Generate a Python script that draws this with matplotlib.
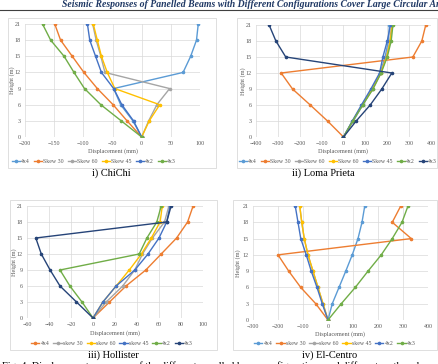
import matplotlib
matplotlib.use('Agg')
import matplotlib.pyplot as plt
from matplotlib.patches import Rectangle
from matplotlib.lines import Line2D

# ---------------- data ----------------
heights = [0, 3, 6, 9, 12, 15, 18, 21]

chichi_labels = ['4x4', 'Skew 30', 'Skew 60', 'Skew 45', '4x2', '4x3']
chichi_4x4 = [0, -15, -36, -48, 71, 84, 94, 97]
chichi_skew30 = [0, -25, -49, -76, -99, -119, -139, -149]
chichi_skew60 = [0, 12, 26, 48, -63, -70, -78, -84]
chichi_skew45 = [0, 13, 31, -46, -59, -69, -76, -83]
chichi_4x2 = [0, -14, -34, -48, -69, -79, -89, -93]
chichi_4x3 = [0, -35, -70, -98, -116, -133, -156, -170]
chichi_xticks = [-200, -150, -100, -50, 0, 50, 100]

loma_labels = ['4x4', 'Skew 30', 'Skew 60', 'Skew 60', 'Skew 45', '4x2', '4x3']
loma_4x4 = [0, 45, 88, 130, 168, 190, 205, 210]
loma_skew30 = [0, -73, -152, -233, -285, 317, 358, 376]
loma_skew60a = [0, 42, 86, 133, 170, 195, 212, 220]
loma_skew60b = [0, 42, 85, 132, 170, 197, 214, 222]
loma_skew45 = [0, 40, 82, 125, 165, 180, 200, 215]
loma_4x2 = [0, 42, 88, 135, 172, 200, 218, 226]
loma_4x3 = [0, 58, 122, 175, 221, -264, -309, -340]
loma_xticks = [-400, -300, -200, -100, 0, 100, 200, 300, 400]

hol_labels = ['4x4', 'skew 30', 'skew 60', 'skew 45', '4x2', '4x3']
hol_4x4 = [0, 15, 30, 48, 62, 76, 86, 91]
hol_skew30 = [0, 12, 27, 38, 45, 54, 65, 69]
hol_skew60 = [0, 9, 21, 33, 44, 53, 61, 63]
hol_skew45 = [0, 9, 21, 38, 50, 60, 67, 70]
hol_4x2 = [0, -10, -21, -30, 42, 49, 58, 62]
hol_4x3 = [0, -15, -30, -39, -47, -52, 67, 71]
hol_xticks = [-60, -40, -20, 0, 20, 40, 60, 80, 100]

elc_labels = ['4x4', 'skew 30', 'skew 60', 'skew 45', '4x2', '4x3']
elc_4x4 = [0, 17, 44, 71, 97, 120, 136, 147]
elc_skew30 = [0, -49, -109, -157, -200, 333, 257, 291]
elc_skew60 = [0, -20, -40, -60, -80, -95, -105, -113]
elc_skew45 = [0, -20, -40, -60, -80, -95, -105, -113]
elc_4x2 = [0, -23, -44, -67, -87, -109, -120, -131]
elc_4x3 = [0, 53, 109, 160, 213, 257, 296, 320]
elc_xticks = [-300, -200, -100, 0, 100, 200, 300, 400]

yticks = [0, 3, 6, 9, 12, 15, 18, 21]

# ---------------- style ----------------
LB, OR, GR, YE, BL, GN, DB = '#5B9BD5', '#ED7D31', '#A5A5A5', '#FFC000', '#4472C4', '#70AD47', '#264478'
SERIF = ['Liberation Serif', 'DejaVu Serif']
TXT = '#595959'

W, H = 439, 364
fig = plt.figure(figsize=(W / 100, H / 100), dpi=100)


def box(x0, y0, x1, y1):
    return [x0 / W, 1 - y1 / H, (x1 - x0) / W, (y1 - y0) / H]


def panel(rect, frame, labels, values, colors, xticks, leg_cx, leg_y,
          caption, cap_cx, cap_y, ylab_x, xlab_y):
    fig.patches.append(Rectangle((frame[0] / W, 1 - frame[3] / H),
                                 (frame[2] - frame[0]) / W, (frame[3] - frame[1]) / H,
                                 transform=fig.transFigure, fill=False,
                                 ec='#D9D9D9', lw=0.6))
    ax = fig.add_axes(box(*rect))
    handles = []
    for lab, vals, col in zip(labels, values, colors):
        ln, = ax.plot(vals, heights, color=col, lw=1.0, marker='o', ms=1.6,
                      solid_joinstyle='round')
        handles.append(Line2D([], [], color=col, lw=1.0, marker='o', ms=1.6))
    ax.set_xlim(xticks[0], xticks[-1])
    ax.set_ylim(0, 21)
    ax.set_xticks(xticks)
    ax.set_yticks(yticks)
    ax.grid(True, color='#D9D9D9', lw=0.5)
    ax.set_axisbelow(True)
    for s in ax.spines.values():
        s.set_visible(False)
    ax.tick_params(length=0, labelsize=4.3, labelcolor=TXT, pad=3)
    for t in ax.get_xticklabels() + ax.get_yticklabels():
        t.set_family(SERIF)
    fig.text(ylab_x / W, 1 - (rect[1] + rect[3]) / 2 / H, 'Height (m)', rotation=90,
             ha='center', va='center', fontsize=4.5, color=TXT, family=SERIF)
    fig.text((rect[0] + rect[2]) / 2 / W, 1 - xlab_y / H, 'Displacement (mm)',
             ha='center', va='center', fontsize=4.5, color=TXT, family=SERIF)
    fig.legend(handles, labels, loc='center', bbox_to_anchor=(leg_cx / W, 1 - leg_y / H),
               ncol=len(labels), frameon=False, handlelength=1.4, handletextpad=0.2,
               columnspacing=0.7, prop={'family': SERIF, 'size': 4.2},
               labelcolor=TXT, borderpad=0)
    fig.text(cap_cx / W, 1 - cap_y / H, caption, ha='center', va='center',
             fontsize=7.5, family=SERIF, color='black')
    return ax


panel((25, 24, 200, 137), (8, 18, 216, 168), chichi_labels,
      [chichi_4x4, chichi_skew30, chichi_skew60, chichi_skew45, chichi_4x2, chichi_4x3],
      [LB, OR, GR, YE, BL, GN], chichi_xticks, 94, 161, 'i) ChiChi', 111, 173, 12, 151)

panel((256, 25, 431, 137), (237, 18, 437, 168), loma_labels,
      [loma_4x4, loma_skew30, loma_skew60a, loma_skew60b, loma_skew45, loma_4x2, loma_4x3],
      [LB, OR, GR, YE, BL, GN, DB], loma_xticks, 338, 161, 'ii) Loma Prieta', 323, 173, 243, 151)

panel((27, 206, 203, 318), (10, 200, 217, 350), hol_labels,
      [hol_4x4, hol_skew30, hol_skew60, hol_skew45, hol_4x2, hol_4x3],
      [OR, GR, YE, BL, GN, DB], hol_xticks, 112, 343, 'iii) Hollister', 113, 355, 14, 333)

panel((253, 206, 428, 320), (233, 200, 437, 350), elc_labels,
      [elc_4x4, elc_skew30, elc_skew60, elc_skew45, elc_4x2, elc_4x3],
      [LB, OR, GR, YE, BL, GN], elc_xticks, 335, 343, 'iv) El-Centro', 330, 355, 238, 334)

# header and caption
fig.text(62 / W, 1 - 4.5 / H,
         'Seismic Responses of Panelled Beams with Different Configurations Cover Large Circular Areas',
         ha='left', va='center', fontsize=7, fontweight='bold', fontstyle='italic',
         family=SERIF, color='#1F3864')
fig.add_artist(Line2D([0, 1], [1 - 9.5 / H, 1 - 9.5 / H], transform=fig.transFigure,
                      color='#404040', lw=0.8))
fig.text(2 / W, 1 - 366 / H,
         'Fig. 4: Displacement responses of the different panelled beam configurations and different earthquake records',
         ha='left', va='center', fontsize=7.5, family=SERIF, color='black')

fig.savefig('out.png', dpi=100)
